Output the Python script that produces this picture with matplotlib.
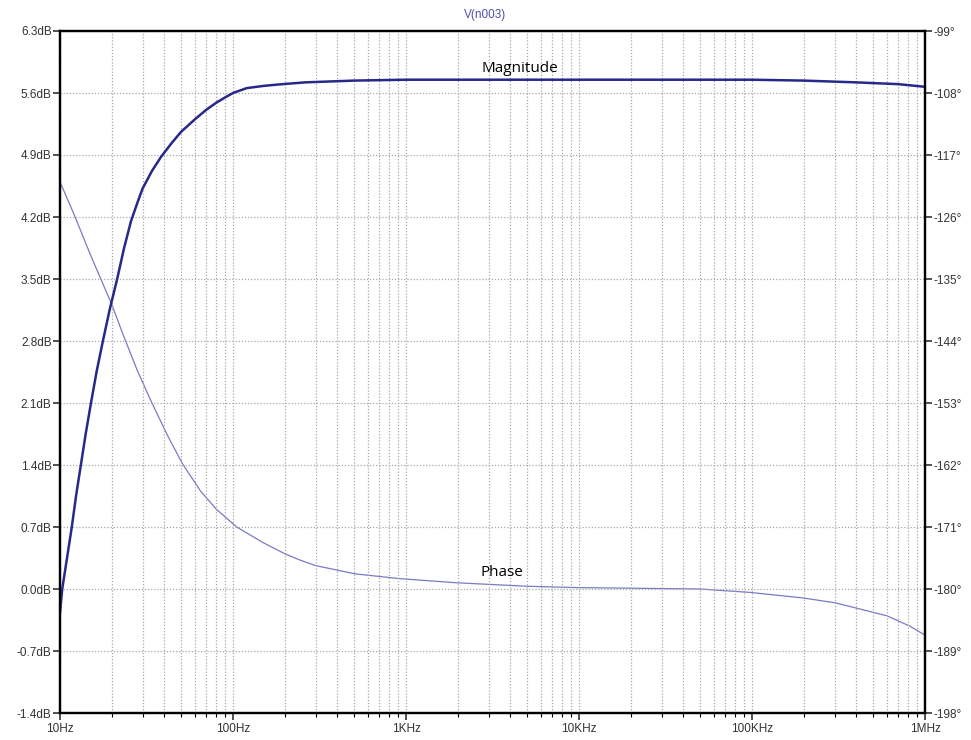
import numpy as np
import matplotlib.pyplot as plt
from matplotlib.ticker import FixedLocator, LogLocator, NullFormatter

# values
mag_freq = [10, 10.3, 11, 11.7, 12.4, 13.2, 14.1, 15.1, 16.3, 17.7, 19.4, 21.4, 23.4,
            25.7, 28, 30, 34, 38.4, 44, 50, 60, 70, 80, 90, 100, 120, 150, 180, 261,
            500, 1e3, 1e4, 1e5, 2e5, 4e5, 7e5, 1e6]
mag_db = [-0.27, 0.0, 0.36, 0.7, 1.06, 1.4, 1.76, 2.1, 2.46, 2.8, 3.16, 3.5, 3.84,
          4.15, 4.36, 4.52, 4.72, 4.88, 5.03, 5.16, 5.30, 5.41, 5.49, 5.55, 5.60,
          5.655, 5.68, 5.695, 5.72, 5.74, 5.75, 5.75, 5.75, 5.74, 5.72, 5.70, 5.67]

ph_freq = [10, 12, 15, 20, 23.1, 28, 34, 42, 51, 65, 80, 105, 150, 200, 244, 300,
           507, 923, 1970, 5e3, 1e4, 5e4, 9.8e4, 1.97e5, 3.02e5, 4.05e5, 6.04e5,
           8.18e5, 1e6]
phase_deg = [-120.9, -125.5, -131.5, -138.8, -143.0, -148.3, -153.0, -157.8, -161.8,
             -165.8, -168.4, -171.0, -173.3, -174.9, -175.8, -176.6, -177.8, -178.5,
             -179.1, -179.6, -179.8, -180.0, -180.5, -181.3, -182.0, -182.8, -183.9,
             -185.4, -186.7]

db_ticks = [-1.4, -0.7, 0.0, 0.7, 1.4, 2.1, 2.8, 3.5, 4.2, 4.9, 5.6, 6.3]
deg_ticks = [-198, -189, -180, -171, -162, -153, -144, -135, -126, -117, -108, -99]
f_ticks = [10, 100, 1e3, 1e4, 1e5, 1e6]
f_labels = ['10Hz', '100Hz', '1KHz', '10KHz', '100KHz', '1MHz']

plt.rcParams['font.family'] = ['Liberation Sans', 'DejaVu Sans']

fig = plt.figure(figsize=(9.71, 7.40), dpi=100)
ax = fig.add_axes([60 / 971, 1 - 713 / 740, 865 / 971, 682 / 740])
ax2 = ax.twinx()

grid_kw = dict(color='#a8a8a8', linestyle=(0, (1, 1.5)), linewidth=0.9)

ax.set_xscale('log')
ax.set_xlim(10, 1e6)
ax.set_ylim(-1.4, 6.3)
ax.xaxis.set_major_locator(FixedLocator(f_ticks))
ax.set_xticklabels(f_labels)
ax.xaxis.set_minor_locator(LogLocator(base=10, subs=np.arange(2, 10)))
ax.xaxis.set_minor_formatter(NullFormatter())
ax.set_yticks(db_ticks)
ax.set_yticklabels(['%.1fdB' % v for v in db_ticks])
ax.grid(True, which='both', axis='x', **grid_kw)
ax.grid(True, which='major', axis='y', **grid_kw)

ax2.set_ylim(-198, -99)
ax2.set_yticks(deg_ticks)
ax2.set_yticklabels(['%d°' % v for v in deg_ticks])

for a in (ax, ax2):
    for s in a.spines.values():
        s.set_linewidth(1.6)
        s.set_color('black')
    a.tick_params(which='major', length=5, width=1.2, labelsize=8.5,
                  colors='#333333', pad=1)
ax.tick_params(axis='x', which='minor', length=3, width=0.8)
ax.tick_params(axis='x', which='major', pad=2)

ax2.plot(ph_freq, phase_deg, color='#7a7ac4', linewidth=0.9)
ax.plot(mag_freq, mag_db, color='#28288a', linewidth=1.8)
ax.set_zorder(ax2.get_zorder() + 1)
ax.patch.set_visible(False)

ax.text(4560, 5.88, 'Magnitude', ha='center', va='center', fontsize=11,
        family=['Open Sans', 'DejaVu Sans'])
ax.text(3590, 0.19, 'Phase', ha='center', va='center', fontsize=11,
        family=['Open Sans', 'DejaVu Sans'])

fig.text(0.5, 1 - 15 / 740, 'V(n003)', ha='center', va='center', fontsize=8.5,
         color='#5050a8')

fig.savefig('out.png', dpi=100)
